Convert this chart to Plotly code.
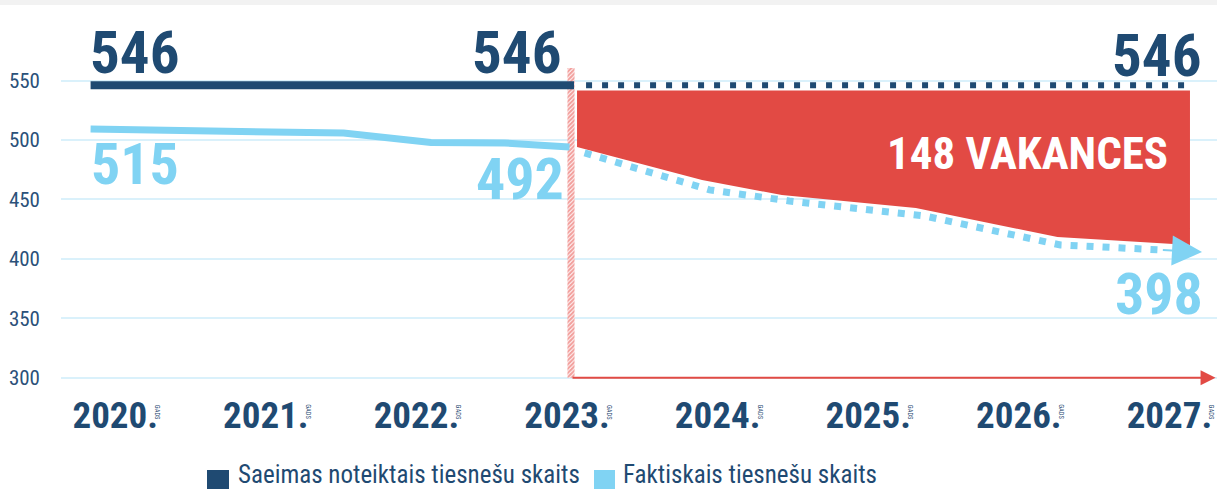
import plotly.graph_objects as go

# ---------------- data ----------------
years = [2020, 2021, 2022, 2023, 2024, 2025, 2026, 2027]
year_labels = ["2020.", "2021.", "2022.", "2023.", "2024.", "2025.", "2026.", "2027."]
year_suffix = "GADS"

# Saeimas noteiktais tiesnešu skaits (set number of judges)
set_hist_x = [2019.81, 2023.02]
set_hist_y = [546, 546]
set_proj_x = [2023.10, 2027.12]
set_proj_y = [546, 546]

# Faktiskais tiesnešu skaits (actual number of judges)
act_hist_x = [2019.81, 2021.49, 2022.07, 2022.56, 2022.99]
act_hist_y = [509.2, 505.8, 497.8, 497.4, 494.1]
act_proj_x = [2023.09, 2023.92, 2024.45, 2025.35, 2026.25, 2026.92]
act_proj_y = [489.1, 458.0, 448.7, 436.0, 411.7, 407.5]
act_arrow_tip = (2027.19, 405.7)

# vacancies band (red)
vac_x = [2023.04, 2023.87, 2024.40, 2025.29, 2026.23, 2027.11]
vac_top = [541.5, 541.5, 541.5, 541.5, 541.5, 541.5]
vac_bottom = [494.1, 466.3, 453.7, 442.8, 418.4, 411.7]

value_labels_set = ["546", "546", "546"]
value_labels_act = ["515", "492", "398"]
vacancy_label = "148 VAKANCES"
legend_names = ["Saeimas noteiktais tiesnešu skaits", "Faktiskais tiesnešu skaits"]
y_ticks = [300, 350, 400, 450, 500, 550]

# ---------------- style ----------------
NAVY = "#1f4a72"
LIGHT = "#80d3f3"
RED = "#e24a44"
GRID = "#daf1fb"
FONT = "Roboto Condensed, Open Sans Condensed, DejaVu Sans Condensed, sans-serif"

divider_year = 2023
divider_top = 560.5
axis_base = 300

W, H = 1217, 489
ML, MR, MT, MB = 61, 0, 10, 99
PH = H - MT - MB


def py(pixel_y):
    """pixel row -> paper y"""
    return (H - MB - pixel_y) / PH


def px(pixel_x):
    """pixel column -> paper x"""
    return (pixel_x - ML) / (W - ML - MR)


fig = go.Figure()

# hatched divider line
fig.add_trace(go.Bar(
    x=[divider_year], y=[divider_top - axis_base], base=[axis_base], width=[0.047],
    marker=dict(color="white", line=dict(width=0),
                pattern=dict(shape="/", fgcolor="#e5403a", bgcolor="white", size=3, solidity=0.7)),
    showlegend=False, hoverinfo="skip"))

# red vacancies polygon
fig.add_trace(go.Scatter(
    x=vac_x + vac_x[::-1], y=vac_bottom + vac_top[::-1],
    fill="toself", fillcolor=RED, mode="none", showlegend=False, hoverinfo="skip"))

# set number: solid + dotted
fig.add_trace(go.Scatter(x=set_hist_x, y=set_hist_y, mode="lines", name=legend_names[0],
                         line=dict(color=NAVY, width=8), showlegend=False))
fig.add_trace(go.Scatter(x=set_proj_x, y=set_proj_y, mode="lines", name=legend_names[0],
                         line=dict(color=NAVY, width=6, dash="6px,10px"), showlegend=False))

# actual number: solid + dotted
fig.add_trace(go.Scatter(x=act_hist_x, y=act_hist_y, mode="lines", name=legend_names[1],
                         line=dict(color=LIGHT, width=7), showlegend=False))
fig.add_trace(go.Scatter(x=act_proj_x, y=act_proj_y, mode="lines", name=legend_names[1],
                         line=dict(color=LIGHT, width=7, dash="7px,9px"), showlegend=False))

ann = []
big_dark = dict(family=FONT, size=59, color=NAVY, weight="bold")
big_light = dict(family=FONT, size=58, color=LIGHT, weight="bold")


def label(x, y, text, font, xanchor, xshift, yshift):
    ann.append(dict(x=x, y=y, text=text, xanchor=xanchor, yanchor="middle", showarrow=False,
                    font=font, xshift=xshift, yshift=yshift))


# 546 labels
label(set_hist_x[0], set_hist_y[0], value_labels_set[0], big_dark, "left", -3, 33)
label(divider_year, set_hist_y[-1], value_labels_set[1], big_dark, "right", -8, 33)
label(set_proj_x[-1], set_proj_y[-1], value_labels_set[2], big_dark, "right", 12, 30)
# actual labels
label(act_hist_x[0], act_hist_y[0], value_labels_act[0], big_light, "left", -2, -35)
label(divider_year, act_hist_y[-1], value_labels_act[1], big_light, "right", -5, -32)
label(set_proj_x[-1], act_proj_y[-1], value_labels_act[2], big_light, "right", 14, -44)
# vacancies label
label(vac_x[-1], vac_top[0], vacancy_label,
      dict(family=FONT, size=45, color="white", weight="bold"), "right", -20, -63)

# light arrow head at end of projection
ann.append(dict(x=act_arrow_tip[0], y=act_arrow_tip[1], ax=act_proj_x[-1], ay=act_proj_y[-1],
                axref="x", ayref="y", xref="x", yref="y", text="", showarrow=True,
                arrowhead=2, arrowsize=3.0, arrowwidth=2, arrowcolor=LIGHT, standoff=0))
# red timeline arrow
ann.append(dict(x=2027.28, y=axis_base, ax=divider_year, ay=axis_base, axref="x", ayref="y",
                xref="x", yref="y", text="", showarrow=True, arrowhead=2, arrowsize=1.5,
                arrowwidth=2, arrowcolor=RED, standoff=0))
# "GADS" small vertical labels
for yr in years:
    ann.append(dict(x=yr, xref="x", y=py(412), yref="paper", yanchor="middle", text=year_suffix,
                    textangle=90, showarrow=False, xshift=38,
                    font=dict(family=FONT, size=6.5, color=NAVY)))

# manual legend (squares + text)
leg_items = [(207, 229, 236, NAVY, legend_names[0]), (594, 615, 621, LIGHT, legend_names[1])]
shapes = [dict(type="rect", xref="paper", yref="paper", x0=-0.1, x1=1.1, y0=py(5), y1=py(-20),
               fillcolor="#f2f2f2", line=dict(width=0), layer="below")]
for x0, x1, tx, col, name in leg_items:
    shapes.append(dict(type="rect", xref="paper", yref="paper", x0=px(x0), x1=px(x1),
                       y0=py(492), y1=py(470), fillcolor=col, line=dict(width=0)))
    ann.append(dict(x=px(tx), y=py(474), xref="paper", yref="paper", xanchor="left",
                    yanchor="middle", text=name, showarrow=False,
                    font=dict(family=FONT, size=25, color=NAVY)))

fig.update_layout(
    width=W, height=H,
    margin=dict(l=ML, r=MR, t=MT, b=MB),
    paper_bgcolor="white", plot_bgcolor="white",
    showlegend=False,
    annotations=ann,
    shapes=shapes,
    xaxis=dict(range=[2019.6135, 2027.2895], tickvals=years, ticktext=year_labels,
               tickfont=dict(family=FONT, size=37, color=NAVY, weight="bold"),
               showgrid=False, zeroline=False, showline=False, ticks="",
               automargin=False, ticklabeloverflow="allow", ticklabelshift=-4),
    yaxis=dict(range=[289.7, 609.3], tickvals=y_ticks,
               tickfont=dict(family=FONT, size=21, color="#2b5179"),
               showgrid=True, gridcolor=GRID, gridwidth=2, zeroline=False, showline=False,
               ticks="", ticklabelstandoff=20, automargin=False),
)

fig.write_html("out.html", config={"displayModeBar": False},
               post_script="document.body.style.margin='0px';")
